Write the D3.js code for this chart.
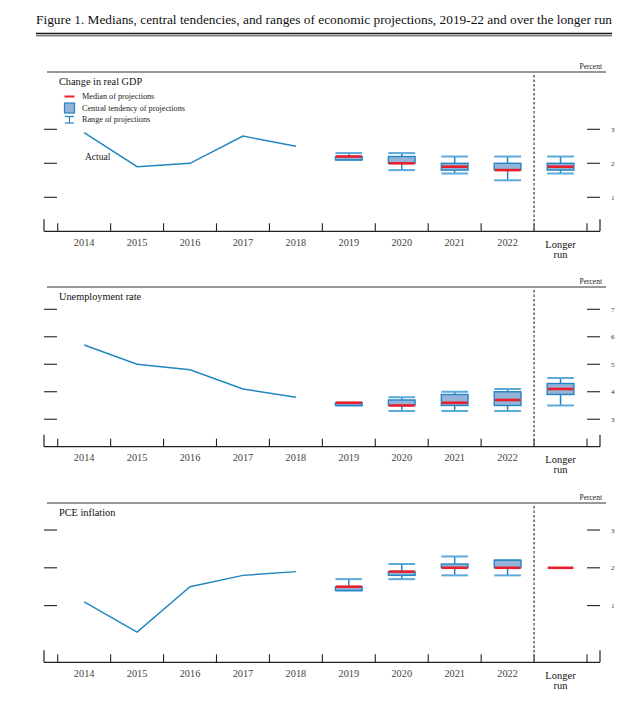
<!DOCTYPE html>
<html>
<head>
<meta charset="utf-8">
<script src="https://cdn.jsdelivr.net/npm/d3@7"></script>
<style>
  html, body { margin: 0; padding: 0; background: #fff; }
  svg { display: block; }
  text { font-family: "Liberation Serif", "DejaVu Serif", serif; }
</style>
</head>
<body>
<svg id="chart" width="627" height="717"></svg>
<script>
// ---------------- DATA ----------------
const categories = ["2014", "2015", "2016", "2017", "2018", "2019", "2020", "2021", "2022", "Longer run"];
const actualYears = ["2014", "2015", "2016", "2017", "2018"];
const projYears = ["2019", "2020", "2021", "2022", "Longer run"];

// Change in real GDP
const gdpActual = [2.9, 1.9, 2.0, 2.8, 2.5];
const gdpMedian = [2.2, 2.0, 1.9, 1.8, 1.9];
const gdpCTLow = [2.1, 2.0, 1.8, 1.8, 1.8];
const gdpCTHigh = [2.2, 2.2, 2.0, 2.0, 2.0];
const gdpRangeLow = [2.1, 1.8, 1.7, 1.5, 1.7];
const gdpRangeHigh = [2.3, 2.3, 2.2, 2.2, 2.2];
const gdpTicks = [1, 2, 3];

// Unemployment rate
const unempActual = [5.7, 5.0, 4.8, 4.1, 3.8];
const unempMedian = [3.6, 3.5, 3.6, 3.7, 4.1];
const unempCTLow = [3.5, 3.5, 3.5, 3.5, 3.9];
const unempCTHigh = [3.6, 3.7, 3.9, 4.0, 4.3];
const unempRangeLow = [3.5, 3.3, 3.3, 3.3, 3.5];
const unempRangeHigh = [3.6, 3.8, 4.0, 4.1, 4.5];
const unempTicks = [3, 4, 5, 6, 7];

// PCE inflation
const pceActual = [1.1, 0.3, 1.5, 1.8, 1.9];
const pceMedian = [1.5, 1.9, 2.0, 2.0, 2.0];
const pceCTLow = [1.4, 1.8, 2.0, 2.0, 2.0];
const pceCTHigh = [1.5, 1.9, 2.1, 2.2, 2.0];
const pceRangeLow = [1.4, 1.7, 1.8, 1.8, 2.0];
const pceRangeHigh = [1.7, 2.1, 2.3, 2.2, 2.0];
const pceTicks = [1, 2, 3];

const titleText = "Figure 1. Medians, central tendencies, and ranges of economic projections, 2019-22 and over the longer run";
const legendLabels = ["Median of projections", "Central tendency of projections", "Range of projections"];

// ---------------- STYLE ----------------
const C = {
  line: "#1f86c0",
  boxFill: "#93b3d8",
  boxStroke: "#2585c2",
  cap: "#5aaadb",
  whisker: "#2585c2",
  median: "#e8202c",
  axis: "#222",
  dash: "#666"
};

const svg = d3.select("#chart");

// Title
svg.append("text")
  .attr("x", 36).attr("y", 24)
  .attr("font-size", 11.5)
  .attr("textLength", 576).attr("lengthAdjust", "spacingAndGlyphs")
  .attr("fill", "#111")
  .text(titleText);
svg.append("line").attr("x1", 36).attr("x2", 612).attr("y1", 33.5).attr("y2", 33.5)
  .attr("stroke", "#111").attr("stroke-width", 1.3);
svg.append("line").attr("x1", 36).attr("x2", 612).attr("y1", 35.8).attr("y2", 35.8)
  .attr("stroke", "#111").attr("stroke-width", 0.8);

// X scale shared
const x = d3.scaleBand().domain(categories).range([57.7, 587]).paddingInner(0).paddingOuter(0);
const bw = x.bandwidth();
const boxW = 26.7;

function drawPanel(cfg) {
  const g = svg.append("g");
  const y = d3.scaleLinear().domain(cfg.domain).range([cfg.axisY, cfg.tickTopY]);

  // top rule + Percent
  g.append("line").attr("x1", 47).attr("x2", 606).attr("y1", cfg.ruleY).attr("y2", cfg.ruleY)
    .attr("stroke", "#333").attr("stroke-width", 1.2);
  g.append("text").attr("x", 602).attr("y", cfg.ruleY - 3).attr("text-anchor", "end")
    .attr("font-size", 7.5).attr("fill", "#222").text("Percent");

  // panel title
  g.append("text").attr("x", 59).attr("y", cfg.ruleY + 12.5)
    .attr("font-size", 10.3).attr("fill", "#111").text(cfg.title);

  // y ticks left & right
  cfg.ticks.forEach(t => {
    g.append("line").attr("x1", 44).attr("x2", 57).attr("y1", y(t)).attr("y2", y(t))
      .attr("stroke", C.axis).attr("stroke-width", 1.1);
    g.append("line").attr("x1", 587).attr("x2", 600).attr("y1", y(t)).attr("y2", y(t))
      .attr("stroke", C.axis).attr("stroke-width", 1.1);
    g.append("text").attr("x", 611).attr("y", y(t) + 2.5)
      .attr("font-size", 7).attr("fill", "#333").text(d3.format("d")(t));
  });

  // x axis
  g.append("line").attr("x1", 44).attr("x2", 600).attr("y1", cfg.axisY).attr("y2", cfg.axisY)
    .attr("stroke", C.axis).attr("stroke-width", 1.2);
  [44, 600].forEach(xx => {
    g.append("line").attr("x1", xx).attr("x2", xx).attr("y1", cfg.axisY - 12).attr("y2", cfg.axisY)
      .attr("stroke", C.axis).attr("stroke-width", 1.2);
  });
  const bounds = categories.map(c => x(c)).concat([x(categories[categories.length - 1]) + bw]);
  bounds.forEach(xx => {
    g.append("line").attr("x1", xx).attr("x2", xx).attr("y1", cfg.axisY - 8).attr("y2", cfg.axisY)
      .attr("stroke", C.axis).attr("stroke-width", 1.1);
  });
  categories.forEach(c => {
    const cx = x(c) + bw / 2;
    if (c === "Longer run") {
      g.append("text").attr("x", cx).attr("y", cfg.axisY + 16.5).attr("text-anchor", "middle")
        .attr("font-size", 10.5).attr("fill", "#111").text("Longer");
      g.append("text").attr("x", cx).attr("y", cfg.axisY + 26.5).attr("text-anchor", "middle")
        .attr("font-size", 10.5).attr("fill", "#111").text("run");
    } else {
      g.append("text").attr("x", cx).attr("y", cfg.axisY + 14.5).attr("text-anchor", "middle")
        .attr("font-size", 10.3).attr("fill", "#444").text(c);
    }
  });

  // dashed separator
  const sepX = x("Longer run");
  g.append("line").attr("x1", sepX).attr("x2", sepX).attr("y1", cfg.ruleY + 3).attr("y2", cfg.axisY)
    .attr("stroke", C.dash).attr("stroke-width", 1.6).attr("stroke-dasharray", "2.5,2");

  // actual line
  const line = d3.line().x((d, i) => x(actualYears[i]) + bw / 2).y(d => y(d));
  g.append("path").datum(cfg.actual).attr("d", line)
    .attr("fill", "none").attr("stroke", C.line).attr("stroke-width", 1.4);

  // projections
  projYears.forEach((c, i) => {
    const cx = x(c) + bw / 2;
    const x0 = cx - boxW / 2, x1 = cx + boxW / 2;
    const rl = cfg.rangeLow[i], rh = cfg.rangeHigh[i];
    const cl = cfg.ctLow[i], ch = cfg.ctHigh[i];
    if (rh > rl) {
      g.append("line").attr("x1", cx).attr("x2", cx).attr("y1", y(rh)).attr("y2", y(ch))
        .attr("stroke", C.whisker).attr("stroke-width", 1.5);
      g.append("line").attr("x1", cx).attr("x2", cx).attr("y1", y(rl)).attr("y2", y(cl))
        .attr("stroke", C.whisker).attr("stroke-width", 1.5);
      [rl, rh].forEach(v => {
        g.append("line").attr("x1", x0).attr("x2", x1).attr("y1", y(v)).attr("y2", y(v))
          .attr("stroke", C.cap).attr("stroke-width", 2);
      });
    }
    if (ch > cl) {
      g.append("rect").attr("x", x0).attr("y", y(ch)).attr("width", boxW).attr("height", y(cl) - y(ch))
        .attr("fill", C.boxFill).attr("stroke", C.boxStroke).attr("stroke-width", 1.4);
    }
    g.append("line").attr("x1", x0 + 0.5).attr("x2", x1 - 0.5).attr("y1", y(cfg.median[i])).attr("y2", y(cfg.median[i]))
      .attr("stroke", C.median).attr("stroke-width", 2.6);
  });

  return { g, y };
}

const p1 = drawPanel({
  title: "Change in real GDP", ruleY: 72, axisY: 231.3, tickTopY: 129.3, domain: [0, 3],
  ticks: gdpTicks, actual: gdpActual, median: gdpMedian,
  ctLow: gdpCTLow, ctHigh: gdpCTHigh, rangeLow: gdpRangeLow, rangeHigh: gdpRangeHigh
});
// "Actual" label
p1.g.append("text").attr("x", 85).attr("y", 160).attr("font-size", 9.5).attr("fill", "#222").text("Actual");

// legend in panel 1
const lg = p1.g;
lg.append("line").attr("x1", 64.5).attr("x2", 74.5).attr("y1", 96.5).attr("y2", 96.5)
  .attr("stroke", C.median).attr("stroke-width", 2);
lg.append("rect").attr("x", 64.5).attr("y", 103).attr("width", 10).attr("height", 10)
  .attr("fill", C.boxFill).attr("stroke", C.boxStroke).attr("stroke-width", 1.2);
lg.append("line").attr("x1", 65).attr("x2", 74).attr("y1", 116.5).attr("y2", 116.5).attr("stroke", C.whisker).attr("stroke-width", 1.2);
lg.append("line").attr("x1", 65).attr("x2", 74).attr("y1", 123).attr("y2", 123).attr("stroke", C.whisker).attr("stroke-width", 1.2);
lg.append("line").attr("x1", 69.5).attr("x2", 69.5).attr("y1", 116.5).attr("y2", 123).attr("stroke", C.whisker).attr("stroke-width", 1.2);
[99.3, 111, 122].forEach((yy, i) => {
  lg.append("text").attr("x", 82).attr("y", yy).attr("font-size", 8.2).attr("fill", "#222").text(legendLabels[i]);
});

drawPanel({
  title: "Unemployment rate", ruleY: 287, axisY: 446.7, tickTopY: 309.3, domain: [2, 7],
  ticks: unempTicks, actual: unempActual, median: unempMedian,
  ctLow: unempCTLow, ctHigh: unempCTHigh, rangeLow: unempRangeLow, rangeHigh: unempRangeHigh
});

drawPanel({
  title: "PCE inflation", ruleY: 503, axisY: 662.3, tickTopY: 530, domain: [-0.5, 3],
  ticks: pceTicks, actual: pceActual, median: pceMedian,
  ctLow: pceCTLow, ctHigh: pceCTHigh, rangeLow: pceRangeLow, rangeHigh: pceRangeHigh
});
</script>
</body>
</html>
